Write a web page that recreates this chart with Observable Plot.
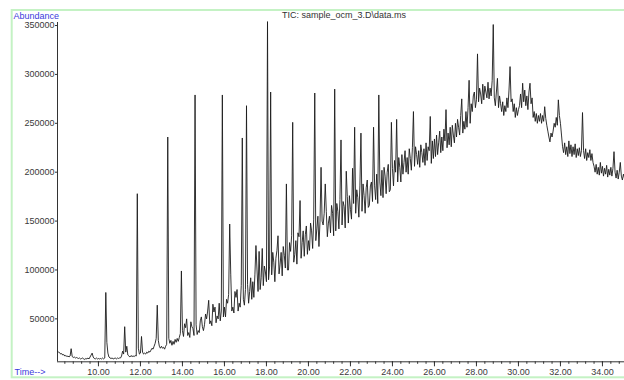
<!DOCTYPE html>
<html><head><meta charset="utf-8">
<script src="https://cdn.jsdelivr.net/npm/d3@7"></script>
<script src="https://cdn.jsdelivr.net/npm/@observablehq/plot@0.6"></script>
<style>body{margin:0;background:#fff;} svg{display:block}</style>
</head><body><div id="chart"></div>
<script>
const chartTitle = "TIC: sample_ocm_3.D\\data.ms";
const yAxisLabel = "Abundance";
const xAxisLabel = "Time-->";

// TIC samples, every 0.05 min from 8.05 min (values in thousands)
const startTime = 8.05;
const timeStep = 0.05;
const abundanceK = [
  17,16,15.5,14,14.5,13,13.5,12,12.5,11.5,12,11,12,13,11.5,10.5,11,10,10.5,10,          // 8.05-9.00
  9.5,10,9,9.5,10,9,8.5,9.5,9,10,9,11,13,15,11,9.5,9,10,9,9.5,                          // 9.05-10.00
  9,9.5,9,10,9,10,12,26,15,11,10,9.5,10,9,9.5,10,9,10,9.5,10,                           // 10.05-11.00
  10,12,17,14,15,16,22,13,12,11,12.5,11.5,12,11.5,12.5,12,14,20,14,15,                  // 11.05-12.00
  20,16,14,15,14,16,15,17,16,18,20,19,22,25,30,28,28,22,20,22,                          // 12.05-13.00
  20,21,19,22,24,26,30,25,28,23,27,24,29,26,30,27,31,35,33,38,                          // 13.05-14.00
  32,45,41,50,33,36,31,47,42,40,33,40,44,34,38,36,48,52,42,38,                          // 14.05-15.00
  44,55,50,58,60,45,48,43,65,57,62,46,53,50,66,48,58,60,52,62,                          // 15.05-16.00
  52,70,66,75,80,95,58,62,56,78,72,80,58,66,62,84,80,70,64,80,                          // 16.05-17.00
  90,85,66,78,92,70,88,72,95,84,100,78,100,80,92,100,84,104,98,88,                      // 17.05-18.00
  110,90,104,110,95,118,108,88,112,120,110,96,106,118,94,124,115,102,110,100,           // 18.05-19.00
  100,128,119,135,130,108,116,130,106,138,134,140,112,128,140,114,136,145,116,130,      // 19.05-20.00
  120,148,140,122,152,150,130,142,155,124,150,128,150,146,158,130,160,134,148,155,      // 20.05-21.00
  138,166,158,135,150,140,168,160,142,172,160,146,170,165,143,170,175,148,176,162,      // 21.05-22.00
  152,180,168,180,158,182,174,154,186,180,160,188,176,158,184,192,164,166,186,190,      // 22.05-23.00
  170,195,186,172,198,168,200,190,176,202,174,205,196,178,200,208,180,182,200,204,      // 23.05-24.00
  186,212,200,210,190,215,205,190,218,198,210,222,200,215,198,224,214,202,225,220,      // 24.05-25.00
  206,226,218,208,222,205,228,220,210,224,207,230,212,226,222,235,209,232,214,234,      // 25.05-26.00
  216,238,218,230,242,220,236,222,244,232,245,225,240,228,246,226,248,238,230,250,      // 26.05-27.00
  236,254,246,238,258,260,240,252,244,262,246,266,275,250,270,262,278,282,266,274,      // 27.05-28.00
  280,272,286,280,270,290,274,288,282,276,292,275,286,278,294,290,276,268,282,280,      // 28.05-29.00
  266,278,270,262,272,258,268,262,276,266,284,290,272,275,262,270,256,266,258,264,      // 29.05-30.00
  268,280,266,285,272,284,268,278,264,282,285,270,276,256,262,252,260,250,258,252,      // 30.05-31.00
  260,250,258,252,262,255,248,242,236,231,240,236,242,250,246,256,248,262,258,250,      // 31.05-32.00
  238,226,220,230,218,226,216,232,219,228,216,226,218,229,215,224,217,225,216,222,      // 32.05-33.00
  218,222,214,224,212,220,215,223,212,219,210,206,200,208,198,205,197,210,199,206,      // 33.05-34.00
  196,204,198,207,195,203,197,205,196,204,210,200,194,202,193,200,205,196,192,198,194   // 34.05-35.05
];

// sharp peaks (apex time in min, apex height in thousands)
const peakTimes = [8.70,10.35,11.25,11.85,12.05,12.80,13.30,13.95,14.60,15.25,15.90,16.25,16.85,17.05,17.50,17.65,17.80,18.05,18.20,18.55,18.95,19.25,19.60,20.30,20.60,20.80,21.25,21.55,21.80,22.10,22.20,22.50,23.10,23.35,23.95,24.20,25.00,25.80,26.55,27.30,27.65,28.05,28.80,29.00,29.60,30.20,30.55,31.25,31.90,33.05,34.55,34.85];
const peakHeightsK = [19.5,77,42,178,32,64,236,99,279,69,279,147,235,268,125,119,122,354,282,135,188,251,171,281,205,188,285,233,201,204,246,240,246,279,251,254,262,257,264,275,294,321,351,296,308,291,291,267,274,261,221,210];

const timeTicks = [10,12,14,16,18,20,22,24,26,28,30,32,34];
const abundanceTicks = [50000,100000,150000,200000,250000,300000,350000];
const timeDomain = [8.05, 35.05];
const abundanceDomain = [6100, 353100];

const valuesK = abundanceK.slice();
peakTimes.forEach((t, j) => {
  const i = Math.round((t - startTime) / timeStep);
  valuesK[i] = peakHeightsK[j];
});
const tic = valuesK.map((v, i) => ({time: +(startTime + i * timeStep).toFixed(2), abundance: v * 1000}));
const minorTicks = d3.range(8.4, 35.05, 0.4);

const plot = Plot.plot({
  width: 624, height: 380,
  marginLeft: 57, marginRight: 0, marginTop: 22, marginBottom: 18.7,
  style: {fontFamily: "'Liberation Sans', Arial, sans-serif", fontSize: "9px", color: "#3a3a3a", background: "white"},
  x: {domain: timeDomain},
  y: {domain: abundanceDomain},
  marks: [
    Plot.axisX(minorTicks, {tickSize: 2.5, tickFormat: () => "", label: null, stroke: "#333"}),
    Plot.axisX(timeTicks, {tickSize: 5, tickPadding: 2, tickFormat: d => d.toFixed(2), label: null, stroke: "#333"}),
    Plot.axisY(abundanceTicks, {tickSize: 2, tickPadding: 1, tickFormat: d => String(d), label: null, stroke: "#333"}),
    Plot.ruleY([abundanceDomain[0]], {stroke: "#333"}),
    Plot.ruleX([timeDomain[0]], {stroke: "#333"}),
    Plot.line(tic, {x: "time", y: "abundance", stroke: "#1c1c1c", strokeWidth: 0.9})
  ]
});
document.getElementById("chart").appendChild(plot);

const svg = d3.select(plot);
svg.insert("rect", ":first-child")
  .attr("x", 11.7).attr("y", 10).attr("width", 700).attr("height", 367.3)
  .attr("fill", "none").attr("stroke", "#c4f2c4").attr("stroke-width", 2);
const font = "'Liberation Sans', Arial, sans-serif";
svg.append("text").text(yAxisLabel).attr("x", 13.5).attr("y", 18.5).attr("text-anchor", "start")
  .attr("fill", "#3b3bdc").attr("font-size", 9).attr("font-family", font);
svg.append("text").text(xAxisLabel).attr("x", 14.5).attr("y", 375).attr("text-anchor", "start")
  .attr("fill", "#3b3bdc").attr("font-size", 9).attr("font-family", font);
svg.append("text").text(chartTitle).attr("x", 282).attr("y", 18).attr("text-anchor", "start")
  .attr("fill", "#333").attr("font-size", 9).attr("font-family", font);
</script>
</body></html>
